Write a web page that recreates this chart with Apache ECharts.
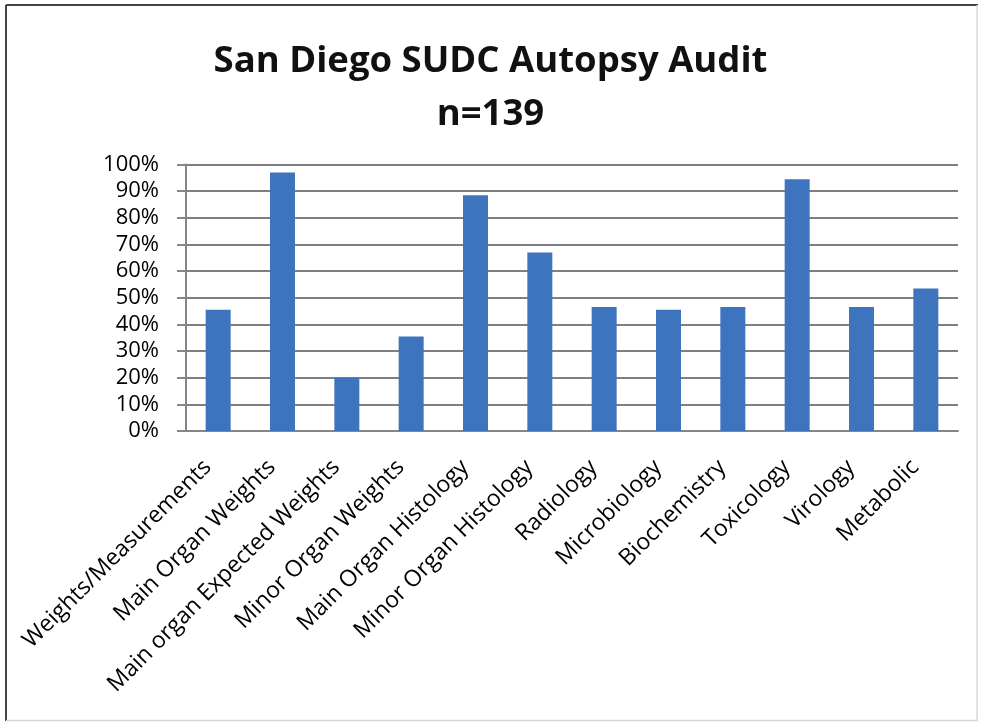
<!DOCTYPE html>
<html>
<head>
<meta charset="utf-8">
<script src="https://cdn.jsdelivr.net/npm/echarts@6/dist/echarts.min.js"></script>
<style>
  html, body { margin: 0; padding: 0; background: #fff; }
  #main { width: 981px; height: 722px; }
</style>
</head>
<body>
<div id="main"></div>
<script>
// autopsy audit chart
var categories = ['Weights/Measurements', 'Main Organ Weights', 'Main organ Expected Weights',
    'Minor Organ Weights', 'Main Organ Histology', 'Minor Organ Histology', 'Radiology',
    'Microbiology', 'Biochemistry', 'Toxicology', 'Virology', 'Metabolic'];
var percentDone = [45.5, 97, 20, 35.5, 88.5, 67, 46.5, 45.5, 46.5, 94.5, 46.5, 53.5];
var titleLines = ['San Diego SUDC Autopsy Audit', 'n=139'];

var myChart = echarts.init(document.getElementById('main'));
var axisGray = '#868686';
var font = '"Open Sans", "Liberation Sans", sans-serif';

var option = {
    backgroundColor: '#fff',
    animation: false,
    title: {
        text: titleLines.join('\n'),
        left: 'center',
        top: 30,
        textStyle: {
            fontFamily: font,
            fontSize: 36.5,
            fontWeight: 'bold',
            color: '#111',
            lineHeight: 53
        }
    },
    grid: {
        left: 186,
        right: 23,
        top: 164.5,
        bottom: 291
    },
    xAxis: {
        type: 'category',
        data: categories,
        axisLine: { lineStyle: { color: axisGray, width: 2 } },
        axisTick: { length: 9, lineStyle: { color: axisGray, width: 2 } },
        axisLabel: {
            rotate: 45,
            interval: 0,
            margin: 22,
            padding: [0, 15, 0, 0],
            fontFamily: font,
            fontSize: 23,
            color: '#000'
        }
    },
    yAxis: {
        type: 'value',
        min: 0,
        max: 100,
        interval: 10,
        axisLine: { show: true, lineStyle: { color: axisGray, width: 2 } },
        axisTick: { show: true, length: 9, lineStyle: { color: axisGray, width: 2 } },
        splitLine: { lineStyle: { color: '#7f7f7f', width: 2 } },
        axisLabel: {
            margin: 27,
            formatter: '{value}%',
            fontFamily: font,
            fontSize: 22,
            color: '#000'
        }
    },
    series: [{
        type: 'bar',
        data: percentDone,
        barWidth: 25,
        itemStyle: { color: '#3e74be' }
    }],
    graphic: [
        { type: 'line', shape: { x1: 6, y1: 5, x2: 6, y2: 721 }, style: { stroke: '#444', lineWidth: 2 } },
        { type: 'line', shape: { x1: 6, y1: 5, x2: 978, y2: 5 }, style: { stroke: '#444', lineWidth: 2 } },
        { type: 'line', shape: { x1: 977, y1: 5, x2: 977, y2: 721 }, style: { stroke: '#d8d8d8', lineWidth: 1.5 } },
        { type: 'line', shape: { x1: 6, y1: 720.5, x2: 978, y2: 720.5 }, style: { stroke: '#d8d8d8', lineWidth: 1.5 } }
    ]
};

myChart.setOption(option);
</script>
</body>
</html>
